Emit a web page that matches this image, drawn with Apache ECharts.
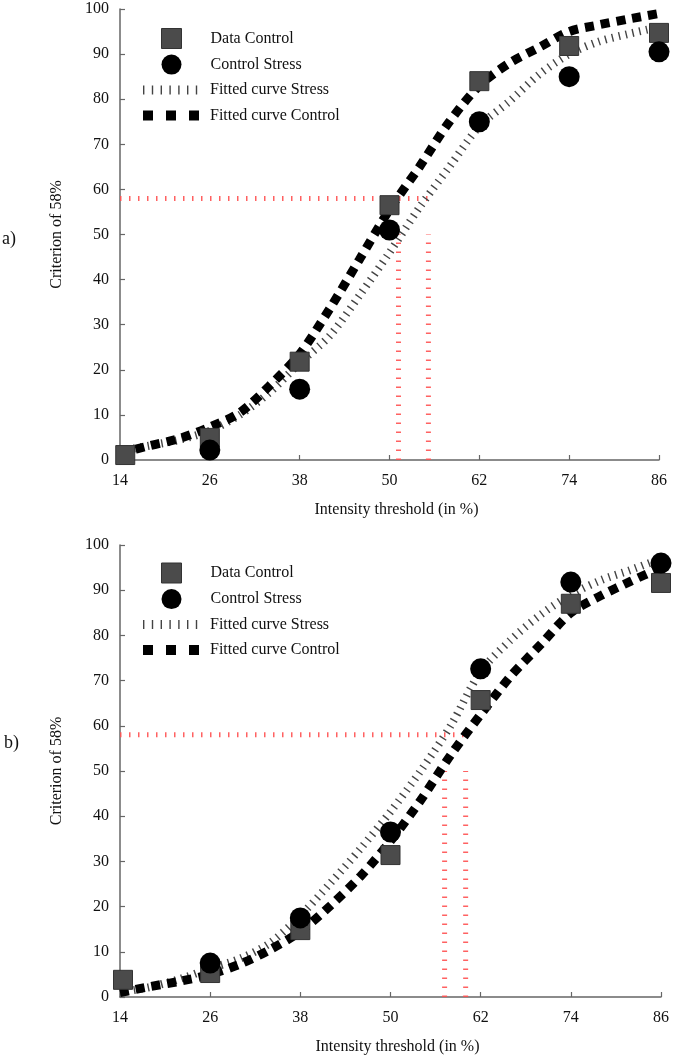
<!DOCTYPE html>
<html>
<head>
<meta charset="utf-8">
<script src="https://cdn.jsdelivr.net/npm/echarts@6/dist/echarts.min.js"></script>
<style>
html,body{margin:0;padding:0;background:#fff;}
#chart{width:675px;height:1057px;}
</style>
</head>
<body>
<div id="chart"></div>
<script>
// ---------- data ----------
const xTicks = [14, 26, 38, 50, 62, 74, 86];
const xPointsA = [14.7, 26, 38, 50, 62, 74, 86];
const xPointsB = [14.4, 26, 38, 50, 62, 74, 86];
const dataControlA = [1.1, 4.9, 21.8, 56.5, 84, 91.8, 94.7];
const controlStressA = [null, 2.2, 15.7, 51, 75, 85, 90.5];
const dataControlB = [3.8, 5.3, 14.8, 31.4, 65.7, 87, 91.6];
const controlStressB = [null, 7.5, 17.5, 36.5, 72.6, 91.8, 96];

const xFit = [14, 18, 22, 26, 30, 34, 38, 42, 46, 50, 54, 58, 62, 66, 70, 74, 78, 82, 86];
const fitControlA = [1.5, 3.2, 4.8, 7.3, 10.5, 16.5, 23.5, 33.5, 44.5, 55.5, 65, 75, 83, 88, 91.5, 95, 96.5, 97.8, 99];
const fitStressA  = [2, 3.2, 4.5, 6.5, 10, 15, 21.5, 27.5, 36.5, 46, 56, 65, 74, 79.5, 85.5, 90, 92.8, 94.5, 96];
const fitControlB = [1, 2.3, 3.5, 5, 7.3, 10.5, 14.5, 20.2, 26.7, 34.5, 43.5, 53.5, 62.5, 71, 78, 85, 88.8, 92, 95];
const fitStressB  = [1, 2.2, 4, 6.3, 8.5, 12, 18, 25.2, 32.8, 41, 50, 60, 72, 79, 84.6, 89, 92.2, 94.5, 97];

const refLevel = 58;
const refTop = 50;
const crossA = [51.2, 55.2];
const crossB = [57.2, 60];

const yTicks = [0, 10, 20, 30, 40, 50, 60, 70, 80, 90, 100];

const names = ['Data Control', 'Control Stress', 'Fitted curve Stress', 'Fitted curve Control'];

// ---------- helpers ----------
const FONT = "'Liberation Serif','Times New Roman',serif";
const pairs = (xs, ys) => xs.map((x, i) => [x, ys[i]]);
const AXIS_COLOR = '#666';
const RED = 'rgba(255,80,80,0.9)';

function xAxis(gi) {
  return {
    type: 'value', gridIndex: gi, min: xTicks[0], max: xTicks[xTicks.length - 1], interval: 12,
    name: 'Intensity threshold (in %)', nameLocation: 'middle', nameGap: 42,
    nameTextStyle: {fontFamily: FONT, fontSize: 16, color: '#111', padding: [0, 0, 0, 14]},
    axisLine: {lineStyle: {color: AXIS_COLOR, width: 1.5}},
    axisTick: {inside: true, length: 5, lineStyle: {color: AXIS_COLOR, width: 1.2}},
    axisLabel: {fontFamily: FONT, fontSize: 16, color: '#111', margin: 13},
    splitLine: {show: false}
  };
}
function yAxis(gi) {
  return {
    type: 'value', gridIndex: gi, min: yTicks[0], max: yTicks[yTicks.length - 1], interval: 10,
    name: 'Criterion of 58%', nameLocation: 'middle', nameGap: 55,
    nameTextStyle: {fontFamily: FONT, fontSize: 16, color: '#111'},
    axisLine: {show: true, lineStyle: {color: AXIS_COLOR, width: 1.5}},
    axisTick: {show: true, inside: true, length: 5, lineStyle: {color: AXIS_COLOR, width: 1.2}},
    axisLabel: {fontFamily: FONT, fontSize: 16, color: '#111', margin: 11},
    splitLine: {show: false}
  };
}
function refSeries(gi, cross) {
  const base = {
    type: 'line', xAxisIndex: gi, yAxisIndex: gi, symbol: 'none', silent: true, z: 1,
    lineStyle: {color: RED, width: 5, type: [1.5, 7.5]}
  };
  return [
    Object.assign({}, base, {data: [[xTicks[0], refLevel], [cross[1], refLevel]]}),
    Object.assign({}, base, {data: [[cross[0], 0], [cross[0], refTop]]}),
    Object.assign({}, base, {data: [[cross[1], 0], [cross[1], refTop]]})
  ];
}
function mainSeries(gi, xp, sq, ci, fs, fc) {
  return [
    {name: names[2], type: 'line', xAxisIndex: gi, yAxisIndex: gi, symbol: 'none', smooth: 0.3, z: 2,
     data: pairs(xFit, fs), itemStyle: {color: '#444'},
     lineStyle: {color: '#444', width: 8, type: [1.4, 5.6], cap: 'butt'}},
    {name: names[3], type: 'line', xAxisIndex: gi, yAxisIndex: gi, symbol: 'none', smooth: 0.3, z: 2,
     data: pairs(xFit, fc), itemStyle: {color: '#000'},
     lineStyle: {color: '#000', width: 9, type: [9, 7], cap: 'butt'}},
    {name: names[0], type: 'scatter', xAxisIndex: gi, yAxisIndex: gi, symbol: 'rect', symbolSize: 19, z: 3,
     data: pairs(xp, sq).filter(p => p[1] !== null),
     itemStyle: {color: '#4b4b4b', borderColor: '#333', borderWidth: 1, opacity: 1}},
    {name: names[1], type: 'scatter', xAxisIndex: gi, yAxisIndex: gi, symbol: 'circle', symbolSize: 21, z: 4,
     data: pairs(xp, ci).filter(p => p[1] !== null),
     itemStyle: {color: '#000', opacity: 1}}
  ];
}
function legends(top) {
  return [
    {
      orient: 'vertical', left: 161, top: top, padding: 0, itemWidth: 20, itemHeight: 20, itemGap: 5.6,
      selectedMode: false,
      textStyle: {fontFamily: FONT, fontSize: 16, color: '#111', padding: [0, 0, 0, 24]},
      data: [
        {name: names[0], icon: 'rect', itemStyle: {color: '#4b4b4b', borderColor: '#333', borderWidth: 1}},
        {name: names[1], icon: 'circle', itemStyle: {color: '#000'}}
      ]
    },
    {
      orient: 'vertical', left: 138, top: top + 54, padding: 0, itemWidth: 56, itemHeight: 20, itemGap: 9.6,
      selectedMode: false,
      textStyle: {fontFamily: FONT, fontSize: 16, color: '#111', padding: [0, 0, 0, 6]},
      data: [
        {name: names[2], itemStyle: {opacity: 0}, lineStyle: {color: '#444', width: 9, type: [1.4, 7.4]}},
        {name: names[3], itemStyle: {opacity: 0}, lineStyle: {color: '#000', width: 10, type: [10, 13]}}
      ]
    }
  ];
}

const chart = echarts.init(document.getElementById('chart'), null, {renderer: 'canvas'});
chart.setOption({
  animation: false,
  backgroundColor: '#fff',
  grid: [
    {left: 120, top: 9, width: 539, height: 451},
    {left: 120, top: 545, width: 541, height: 452}
  ],
  xAxis: [xAxis(0), xAxis(1)],
  yAxis: [yAxis(0), yAxis(1)],
  legend: [].concat(legends(28), legends(562.5)),
  graphic: [
    {type: 'text', left: 2, top: 230, style: {text: 'a)', font: '18px ' + FONT, fill: '#111'}},
    {type: 'text', left: 4, top: 734, style: {text: 'b)', font: '18px ' + FONT, fill: '#111'}}
  ],
  series: [].concat(
    refSeries(0, crossA),
    mainSeries(0, xPointsA, dataControlA, controlStressA, fitStressA, fitControlA),
    refSeries(1, crossB),
    mainSeries(1, xPointsB, dataControlB, controlStressB, fitStressB, fitControlB)
  )
});
</script>
</body>
</html>
